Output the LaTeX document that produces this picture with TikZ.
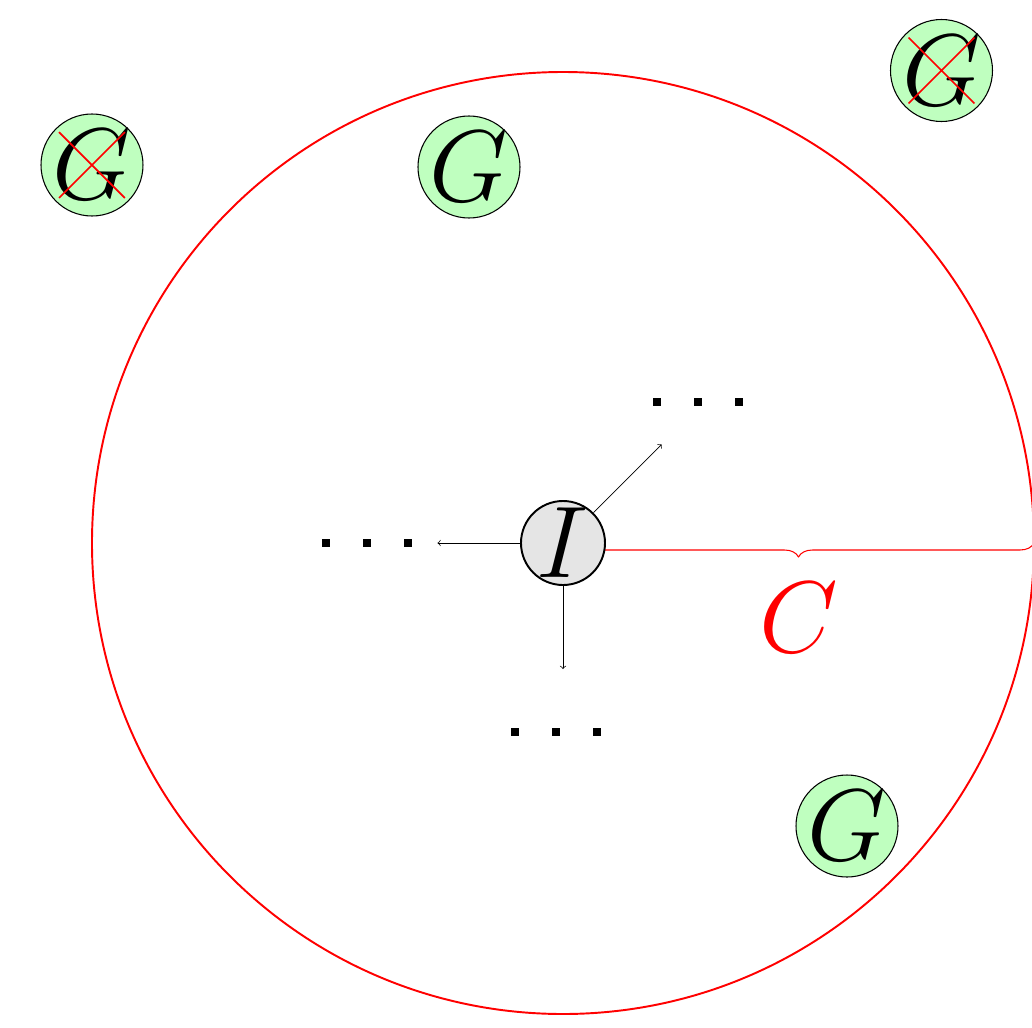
\documentclass[tikz,border=0pt]{standalone}
\usepackage{fix-cm}
\usetikzlibrary{shapes.misc,decorations.pathreplacing}
\begin{document}
\begin{tikzpicture}[line join=round,>=to,
    big/.style={font=\fontsize{58}{60}\selectfont},
    gnode/.style={big,circle,draw,fill=green!25,semithick,inner sep=-1.5pt,minimum size=2.04cm},
    inode/.style={big,circle,draw,fill=gray!20,line width=1.1pt,inner sep=-2.5pt,minimum size=1.68cm},
    nogo/.style={cross out,draw=red,line width=1pt,inner sep=0pt,minimum size=1.28cm}]
	\def\r{9.42}\def\gap{0.82}\def\dot{0.08}
	\useasboundingbox (-11.26,-9.68) rectangle (9.38,10.86);
	\coordinate (O) at (0,0);
	\coordinate (E) at (\r,0);
	\draw[red,line width=1.1pt] (O) circle(\r);
	\draw[red,semithick,decorate,decoration={brace,mirror,amplitude=0.28cm}] (O) -- node[big,midway,yshift=-1.5cm] (c) {$C$} (E);
	\node[inode] (I) at (O) {$I$};
	\node[gnode] (g1) at (-9.42,7.56) {$G$};
	\node[gnode] (g2) at (-1.88,7.52) {$G$};
	\node[gnode] (g3) at (7.57,9.45) {$G$};
	\node[gnode] (g4) at (5.68,-5.66) {$G$};
	\node[nogo] (x1) at (g1) {};
	\node[nogo] (x3) at (g3) {};
	% dots
	\coordinate (dl) at (-3.92,0);
	\coordinate (dr) at (2.69,2.83);
	\coordinate (db) at (-0.14,-3.77);
	\foreach \p in {dl,dr,db} \foreach \k in {-1,0,1}
		\fill ([shift={(\k*\gap-\dot,-\dot)}]\p) rectangle ++(2*\dot,2*\dot);
	\coordinate (al) at (-2.51,0);
	\coordinate (ab) at (0,-2.52);
	\coordinate (ar) at (45:2.79);
	\draw[->] (I) -- (al);
	\draw[->] (I) -- (ab);
	\draw[->] (I) -- (ar);
\end{tikzpicture}
\end{document}
